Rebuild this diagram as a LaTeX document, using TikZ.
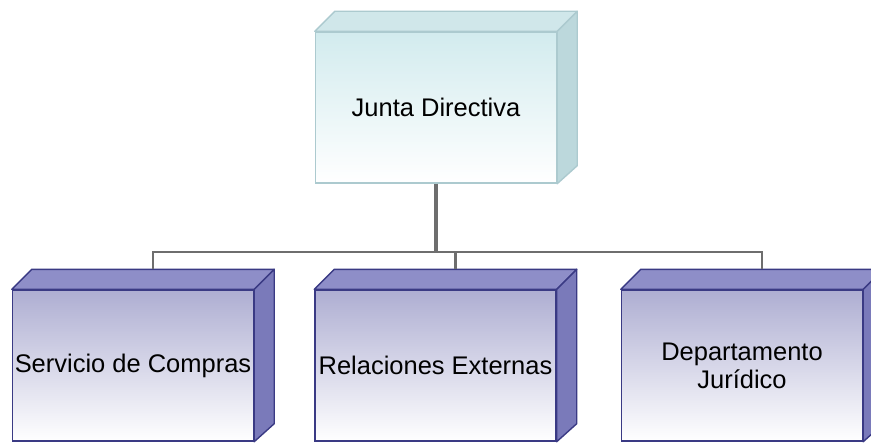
\documentclass[tikz,border=0pt]{standalone}
\usepackage{fontspec}
\setmainfont{Liberation Sans}
\usetikzlibrary{positioning,calc}
\definecolor{JuntaFront}{RGB}{210,235,238}
\definecolor{JuntaTop}{RGB}{208,231,234}
\definecolor{JuntaSide}{RGB}{188,216,220}
\definecolor{JuntaLine}{RGB}{172,202,207}
\definecolor{DeptFront}{RGB}{174,174,210}
\definecolor{DeptTop}{RGB}{142,142,200}
\definecolor{DeptSide}{RGB}{122,122,186}
\definecolor{DeptLine}{RGB}{58,58,132}
\definecolor{LinkGray}{RGB}{110,110,110}

\tikzset{
  box/.style={rectangle, minimum width=4.82cm, minimum height=3.02cm, inner sep=0pt,
    align=center, font=\fontsize{14.5}{16}\selectfont},
  juntabox/.style={box, draw=JuntaLine, line width=0.8pt,
    top color=JuntaFront, middle color=JuntaFront!40, bottom color=white},
  deptbox/.style={box, draw=DeptLine, line width=0.8pt,
    top color=DeptFront, middle color=DeptFront!25, bottom color=white},
  link/.style={LinkGray, line width=1.2pt},
}

\begin{document}
\begin{tikzpicture}
  \useasboundingbox[fill=white] (0,0) rectangle (17.42,8.86);

  % boxes
  \node[juntabox] (jd) at (8.72,6.71) {Junta Directiva};
  \node[deptbox] (sc) at (2.66,1.55) {Servicio de Compras};
  \node[deptbox] (re) at (8.71,1.55) {Relaciones Externas};
  \node[deptbox] (dj) at (14.84,1.55) {Departamento\\Jurídico};

  % top and side faces
  \foreach \n/\tc/\sc/\lc in {jd/JuntaTop/JuntaSide/JuntaLine, sc/DeptTop/DeptSide/DeptLine,
      re/DeptTop/DeptSide/DeptLine, dj/DeptTop/DeptSide/DeptLine} {
    \filldraw[fill=\tc, draw=\lc, line width=0.8pt, line join=round]
      (\n.north west) -- ++(0.4,0.4) -- ([shift={(0.4,0.4)}]\n.north east) -- (\n.north east) -- cycle;
    \filldraw[fill=\sc, draw=\lc, line width=0.8pt, line join=round]
      (\n.north east) -- ++(0.4,0.4) -- ([shift={(0.4,0.36)}]\n.south east) -- (\n.south east) -- cycle;
    \coordinate (\n-top) at ([shift={(0.4,0.4)}]\n.north);
  }

  % connectors
  \coordinate (bus) at (8.72,3.82);
  \draw[link, line width=2.2pt] (jd.south) -- (bus);
  \draw[link] (sc-top) |- (bus) -| (dj-top);
  \draw[link] (re-top) -- (re-top |- bus);
\end{tikzpicture}
\end{document}
